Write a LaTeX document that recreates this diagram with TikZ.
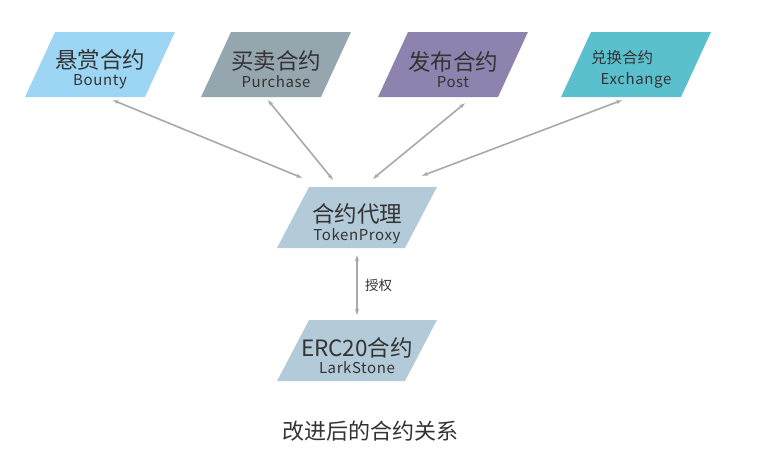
\documentclass[tikz,border=0pt]{standalone}
\usepackage{fontspec}
\setmainfont{Noto Sans CJK SC}
\usetikzlibrary{shapes.geometric,arrows.meta}
\definecolor{cBounty}{HTML}{9DD6F5}
\definecolor{cPurchase}{HTML}{95A6AF}
\definecolor{cPost}{HTML}{8E83AF}
\definecolor{cExchange}{HTML}{5BC0CE}
\definecolor{cProxy}{HTML}{B3CBD8}
\definecolor{cText}{HTML}{333333}
\definecolor{cArrow}{HTML}{A9A9A9}
\tikzset{
  para/.style={trapezium, trapezium left angle=73, trapezium right angle=107,
    trapezium stretches=true, minimum width=150pt, minimum height=65pt,
    inner sep=0pt},
  txt/.style={inner sep=0pt, text=cText, align=center},
  link/.style={draw=cArrow, line width=1.6pt, {Stealth[length=6pt,width=4pt]}-{Stealth[length=6pt,width=4pt]}},
}
\newcommand{\two}[2]{{\fontsize{22.5}{26}\selectfont #1}\\[3pt]{\fontsize{15}{17}\selectfont\addfontfeatures{LetterSpace=4} #2}}
\begin{document}
\begin{tikzpicture}[x=1pt,y=-1pt]
\useasboundingbox[fill=white] (0,0) rectangle (768,466);
\node[para, fill=cBounty] (bounty) at (100,64.5) {\phantom{x}};
\node[para, fill=cPurchase] (purchase) at (276,64.5) {\phantom{x}};
\node[para, fill=cPost] (post) at (453,64.5) {\phantom{x}};
\node[para, fill=cExchange] (exchange) at (636,64.5) {\phantom{x}};
\node[para, fill=cProxy, minimum width=160pt, minimum height=61pt] (proxy) at (357,217.5) {\phantom{x}};
\node[para, fill=cProxy, minimum width=160pt, minimum height=61pt] (erc) at (357,350.5) {\phantom{x}};
\node[txt] (bountyt) at ([yshift=-5pt]bounty.center) {\two{悬赏合约}{Bounty}};
\node[txt] (purchaset) at ([yshift=-5pt]purchase.center) {\two{买卖合约}{Purchase}};
\node[txt] (postt) at ([yshift=-5pt]post.center) {\two{发布合约}{Post}};
\node[txt] (exchanget) at ([yshift=-5pt]exchange.center) {\makebox[0pt]{\hspace*{-28pt}\fontsize{15.5}{18}\selectfont 兑换合约}\\[7pt]{\fontsize{15}{17}\selectfont\addfontfeatures{LetterSpace=4} Exchange}};
\node[txt] (proxyt) at ([yshift=-6pt]proxy.center) {\two{合约代理}{TokenProxy}};
\node[txt] (erct) at ([yshift=-5pt]erc.center) {\two{ERC20合约}{LarkStone}};
\draw[link] ([xshift=13pt,yshift=-3pt]bounty.south) -- ([xshift=-55pt,yshift=9pt]proxy.north);
\draw[link] ([xshift=-8pt,yshift=-3pt]purchase.south) -- ([xshift=-24pt,yshift=7pt]proxy.north);
\draw[link] ([xshift=12pt,yshift=-6pt]post.south) -- ([xshift=16pt,yshift=8pt]proxy.north);
\draw[link] ([xshift=-14pt,yshift=-3pt]exchange.south) -- ([xshift=65pt,yshift=11pt]proxy.north);
\draw[link] ([yshift=-7pt]proxy.south) -- node[right=4pt, text=cText, font=\fontsize{13.5}{16}\selectfont] (auth) {授权} ([yshift=5pt]erc.north);
\node[text=cText, font=\fontsize{22}{26}\selectfont] (caption) at (370,431) {改进后的合约关系};
\end{tikzpicture}
\end{document}
